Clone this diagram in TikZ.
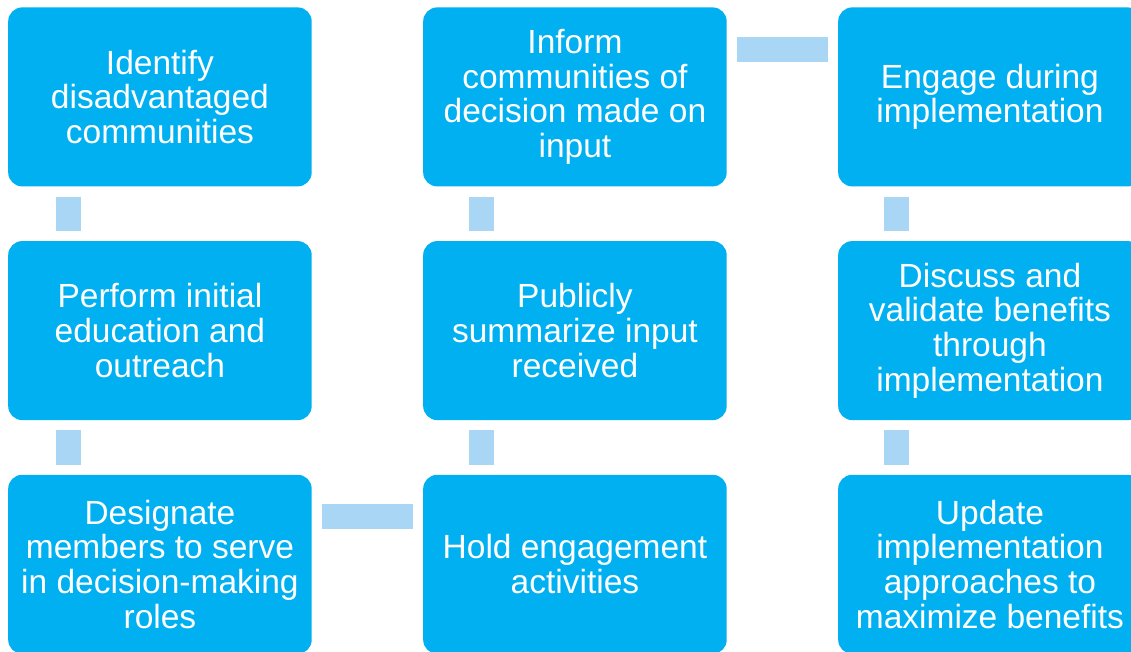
\documentclass[tikz,border=0pt]{standalone}
\usepackage{fontspec}
\setmainfont{Liberation Sans}
\usepackage{xcolor}
\usepackage{tikz}

\definecolor{boxblue}{RGB}{0,176,240}
\definecolor{linkblue}{RGB}{170,214,245}

\begin{document}
\begin{tikzpicture}[x=1pt, y=1pt,
  task/.style={rectangle, fill=boxblue, text=white, minimum width=303.5pt, minimum height=179pt, inner sep=0pt, rounded corners=14pt, align=center, font=\fontsize{33.5}{34.7}\selectfont},
  link/.style={draw=linkblue, line width=25pt, shorten >=10pt, shorten <=10pt}]
\useasboundingbox (0,0) rectangle (1131,-652);
\clip (0,0) rectangle (1131,-652);
\matrix[column sep=111.5pt, row sep=54.5pt, anchor=north west, inner sep=0pt] at (8,-7) {
  \node[task] (identify) {Identify\\disadvantaged\\communities};
  & \node[task] (inform) {Inform\\communities of\\decision made on\\input};
  & \node[task] (engage) {Engage during\\implementation};\\
  \node[task] (educate) {Perform initial\\education and\\outreach};
  & \node[task] (summarize) {Publicly\\summarize input\\received};
  & \node[task] (discuss) {Discuss and\\validate benefits\\through\\implementation};\\
  \node[task] (designate) {Designate\\members to serve\\in decision-making\\roles};
  & \node[task] (hold) {Hold engagement\\activities};
  & \node[task] (update) {Update\\implementation\\approaches to\\maximize benefits};\\
};
\begin{scope} [every path/.style=link]
\path ([xshift=60pt]identify.south west) -- ([xshift=60pt]educate.north west);
\path ([xshift=60pt]educate.south west) -- ([xshift=60pt]designate.north west);
\path ([yshift=-42pt]designate.north east) -- ([yshift=-42pt]hold.north west);
\path ([xshift=58.5pt]hold.north west) -- ([xshift=58.5pt]summarize.south west);
\path ([xshift=58.5pt]summarize.north west) -- ([xshift=58.5pt]inform.south west);
\path ([yshift=-42pt]inform.north east) -- ([yshift=-42pt]engage.north west);
\path ([xshift=58.5pt]engage.south west) -- ([xshift=58.5pt]discuss.north west);
\path ([xshift=58.5pt]discuss.south west) -- ([xshift=58.5pt]update.north west);
\end{scope}
\end{tikzpicture}
\end{document}
